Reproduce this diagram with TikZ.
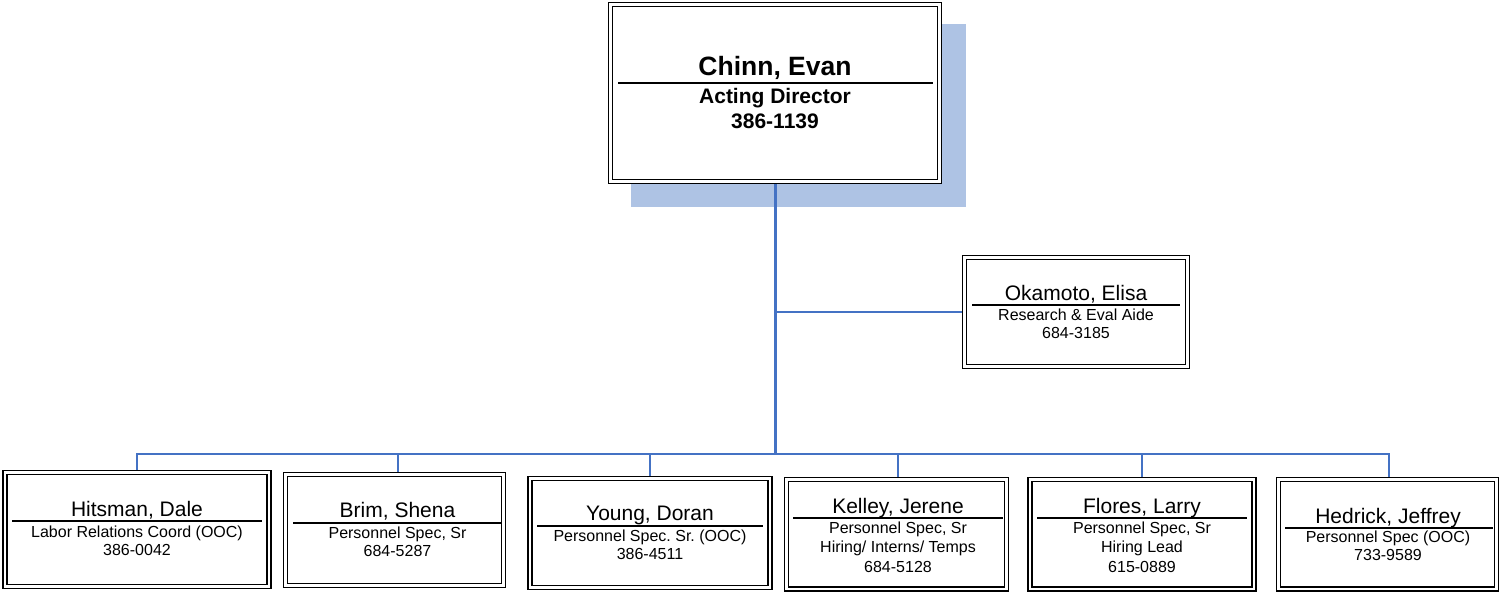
\documentclass[tikz,border=0pt]{standalone}
\usepackage{fontspec}
\setmainfont{Liberation Sans}
\frenchspacing
\definecolor{linkblue}{RGB}{68,114,196}
\definecolor{shadowblue}{RGB}{174,195,228}
\tikzset{
  box/.style={draw=black, double=white, double distance=2.2pt, line width=1.5pt, fill=white, inner sep=0pt, outer sep=2.6pt},
  bossname/.style={anchor=base, inner sep=0pt, font=\fontsize{26.5}{30}\selectfont\bfseries},
  bossinfo/.style={anchor=base, inner sep=0pt, align=center, font=\fontsize{21}{25}\selectfont\bfseries},
  staffname/.style={anchor=base, inner sep=0pt, font=\fontsize{21}{25}\selectfont},
  staffinfo/.style={anchor=base, inner sep=0pt, align=center, font=\fontsize{16}{17.5}\selectfont},
  divider/.style={black, line width=1.5pt},
  trunk/.style={linkblue, line width=3pt},
  link/.style={linkblue, line width=2pt}
}
\begin{document}
\begin{tikzpicture}[x=1pt, y=-1pt]
        \useasboundingbox (0,0) rectangle (1503,592);

        % director with shadow
        \fill[shadowblue] (631,24) rectangle (966,207);
        \node[box, minimum width=329pt, minimum height=177pt] (evan) at (775,93) {};
        \node[bossname] (evanname) at (775,75) {Chinn, Evan};
        \draw[divider] (618,83) -- (933,83);
        \node[bossinfo] (evaninfo) at (775,128) {Acting Director\\386-1139};

        % aide
        \node[box, minimum width=223pt, minimum height=109pt] (elisa) at (1076,312) {};
        \node[staffname] (elisaname) at (1076,300) {Okamoto, Elisa};
        \draw[divider] (972,305) -- (1180,305);
        \node[staffinfo] (elisainfo) at (1076,338) {Research \& Eval Aide\\684-3185};

        % staff row
        \node[box, minimum width=264pt, minimum height=114pt] (dale) at (137,529.5) {};
        \node[staffname] (dalename) at (137,516) {Hitsman, Dale};
        \draw[divider] (12,521) -- (262,521);
        \node[staffinfo] (daleinfo) at (137,555) {Labor Relations Coord (OOC)\\386-0042};

        \node[box, minimum width=218pt, minimum height=111pt] (shena) at (394.5,530) {};
        \node[staffname] (shenaname) at (397.5,517) {Brim, Shena};
        \draw[divider] (293,523) -- (502,523);
        \node[staffinfo] (shenainfo) at (397.5,556) {Personnel Spec, Sr\\684-5287};

        \node[box, minimum width=240pt, minimum height=109pt] (doran) at (650,533) {};
        \node[staffname] (doranname) at (650,520) {Young, Doran};
        \draw[divider] (537,526) -- (763,526);
        \node[staffinfo] (doraninfo) at (650,559) {Personnel Spec. Sr. (OOC)\\386-4511};

        \node[box, minimum width=220pt, minimum height=109.5pt] (jerene) at (896.5,534.25) {};
        \node[staffname] (jerenename) at (898,513) {Kelley, Jerene};
        \draw[divider] (793,518) -- (1003,518);
        \node[staffinfo] (jereneinfo) at (898,572) {Personnel Spec, Sr\\[2pt]Hiring/ Interns/ Temps\\[2pt]684-5128};

        \node[box, minimum width=224pt, minimum height=109.5pt] (larry) at (1142,534.25) {};
        \node[staffname] (larryname) at (1142,513) {Flores, Larry};
        \draw[divider] (1037,518) -- (1247,518);
        \node[staffinfo] (larryinfo) at (1142,572) {Personnel Spec, Sr\\[2pt]Hiring Lead\\[2pt]615-0889};

        \node[box, minimum width=218pt, minimum height=109.5pt] (jeffrey) at (1387.5,534.25) {};
        \node[staffname] (jeffreyname) at (1388,523) {Hedrick, Jeffrey};
        \draw[divider] (1285,528) -- (1493,528);
        \node[staffinfo] (jeffreyinfo) at (1388,560) {Personnel Spec (OOC)\\733-9589};

        % connectors
        \coordinate (bus) at (775.5,454);
        \draw[trunk] (evan.south -| bus) -- (bus);
        \draw[link] (bus |- elisa.west) -- (elisa.west);
        \draw[link] (dale.north) |- (bus) -| ([xshift=1.5pt]jeffrey.north);
        \draw[link] ([xshift=3.5pt]shena.north) -- ([xshift=3.5pt]shena.north |- bus);
        \draw[link] (doran.north) -- (doran.north |- bus);
        \draw[link] ([xshift=1.5pt]jerene.north) -- ([xshift=1.5pt]jerene.north |- bus);
        \draw[link] (larry.north) -- (larry.north |- bus);
    \end{tikzpicture}
\end{document}
